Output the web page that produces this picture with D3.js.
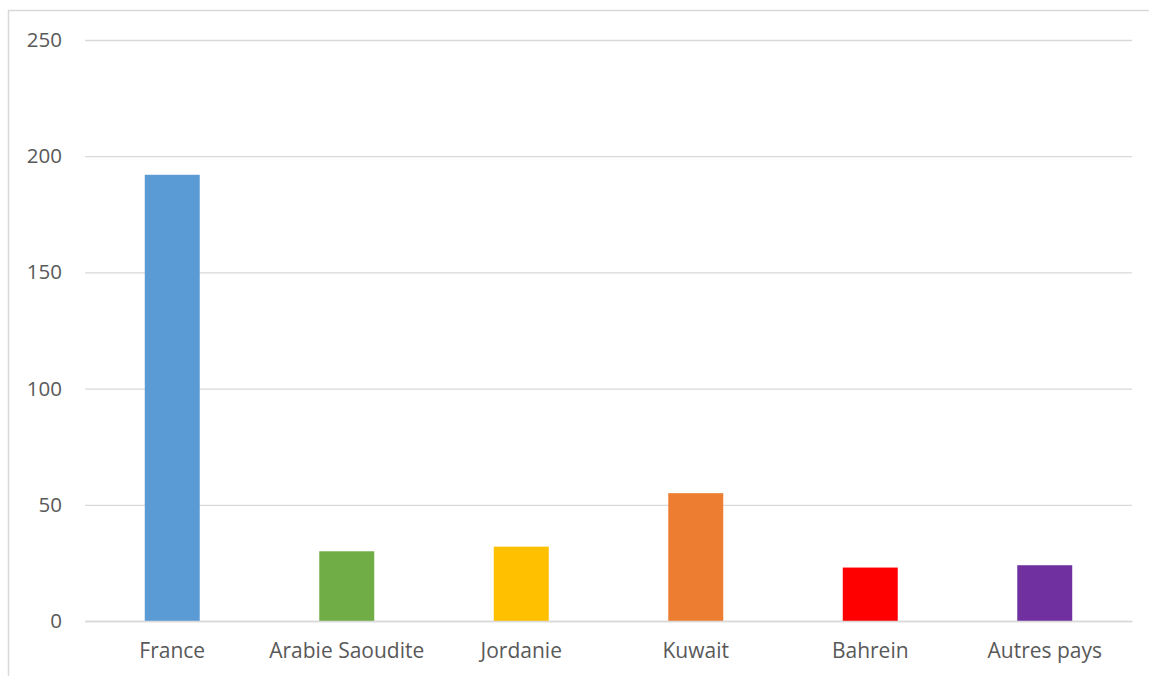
<!DOCTYPE html>
<html><head><meta charset="utf-8">
<script src="https://cdn.jsdelivr.net/npm/d3@7"></script>
<style>body{margin:0;background:#fff}svg{display:block}</style>
</head><body>
<svg id="c" width="1149" height="676"></svg>
<script>
const categories = ["France","Arabie Saoudite","Jordanie","Kuwait","Bahrein","Autres pays"];
const values = [192, 30, 32, 55, 23, 24];
const colors = ["#5B9BD5","#70AD47","#FFC000","#ED7D31","#FF0000","#7030A0"];
const yTicks = [0,50,100,150,200,250];

(function(){
const svg = d3.select("#c");
const font = "'Open Sans', 'Noto Sans', sans-serif";
svg.append("rect").attr("x",8.5).attr("y",10.5).attr("width",1160).attr("height",700)
  .attr("fill","none").attr("stroke","#d9d9d9").attr("stroke-width",1.5);

const mLeft = 85, mRight = 1132, mTop = 40, mBottom = 621;
const x = d3.scaleBand().domain(categories).range([mLeft,mRight]).paddingInner(0.685).paddingOuter(0.3425);
const y = d3.scaleLinear().domain([0,250]).range([mBottom,mTop]);

const ya = svg.append("g").attr("transform",`translate(${mLeft},0)`)
  .call(d3.axisLeft(y).tickValues(yTicks).tickSize(-(mRight-mLeft)).tickPadding(23));
ya.select(".domain").remove();
ya.selectAll(".tick line").attr("stroke","#d9d9d9").attr("stroke-width",1.3);
ya.selectAll(".tick text").attr("fill","#595959").style("font-family",font).style("font-size","20.5px");

svg.selectAll("rect.bar").data(values).join("rect").attr("class","bar")
  .attr("x",(d,i)=>x(categories[i])).attr("width",x.bandwidth())
  .attr("y",d=>y(d)).attr("height",d=>y(0)-y(d))
  .attr("fill",(d,i)=>colors[i]);

const xa = svg.append("g").attr("transform",`translate(0,${mBottom})`)
  .call(d3.axisBottom(x).tickSize(0).tickPadding(22));
xa.select(".domain").attr("stroke","#d9d9d9").attr("stroke-width",1.3);
xa.selectAll(".tick text").attr("fill","#595959").style("font-family",font).style("font-size","21px");
})();
</script>
</body></html>
